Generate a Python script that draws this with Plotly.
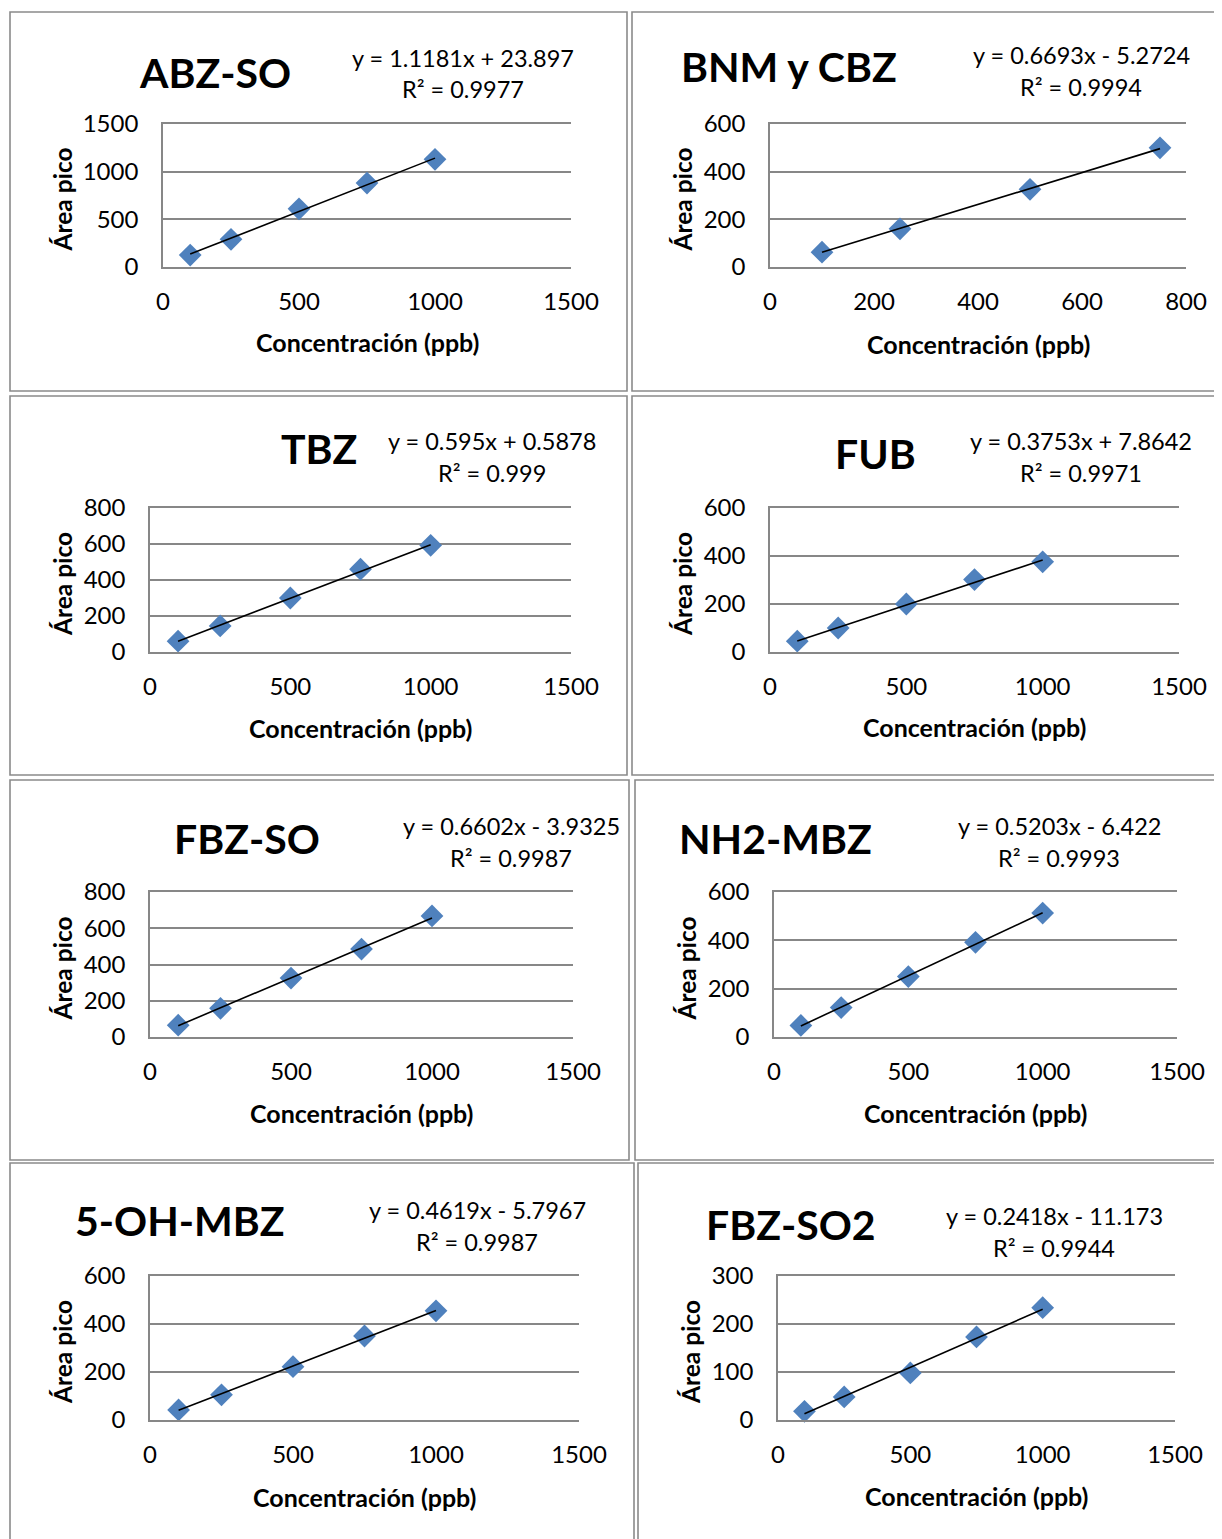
import plotly.graph_objects as go

# ---------------- data ----------------
titles = ["ABZ-SO", "BNM y CBZ", "TBZ", "FUB", "FBZ-SO", "NH2-MBZ", "5-OH-MBZ", "FBZ-SO2"]

conc = [100, 250, 500, 750, 1000]
conc_bnm = [100, 250, 500, 750]

area_abz_so = [125, 290, 610, 880, 1130]
area_bnm_cbz = [62, 160, 326, 500]
area_tbz = [60, 145, 300, 460, 593]
area_fub = [45, 100, 200, 302, 376]
area_fbz_so = [65, 158, 325, 485, 668]
area_nh2_mbz = [48, 122, 250, 392, 513]
area_5oh_mbz = [42, 105, 222, 350, 455]
area_fbz_so2 = [18, 48, 98, 173, 234]

slopes = [1.1181, 0.6693, 0.595, 0.3753, 0.6602, 0.5203, 0.4619, 0.2418]
intercepts = [23.897, -5.2724, 0.5878, 7.8642, -3.9325, -6.422, -5.7967, -11.173]
r2_values = ["0.9977", "0.9994", "0.999", "0.9971", "0.9987", "0.9993", "0.9987", "0.9944"]

x_max = [1500, 800, 1500, 1500, 1500, 1500, 1500, 1500]
x_dtick = [500, 200, 500, 500, 500, 500, 500, 500]
y_max = [1500, 600, 800, 600, 800, 600, 600, 300]
y_dtick = [500, 200, 200, 200, 200, 200, 200, 100]

x_title = "Concentración (ppb)"
y_title = "Área pico"

series_x = [conc, conc_bnm, conc, conc, conc, conc, conc, conc]
series_y = [area_abz_so, area_bnm_cbz, area_tbz, area_fub, area_fbz_so,
            area_nh2_mbz, area_5oh_mbz, area_fbz_so2]

# ---------------- layout geometry (screen pixels) ----------------
OFF = 8                      # page body margin
W, H = 1222 - OFF, 1539 - OFF
# plot area: (left, right, bottom, top)
plot_px = [
    (163, 571, 267, 124),
    (770, 1186, 267, 124),
    (150, 571, 652, 508),
    (770, 1179, 652, 508),
    (150, 573, 1037, 892),
    (774, 1177, 1037, 892),
    (150, 579, 1420, 1276),
    (778, 1175, 1420, 1276),
]
# panel border boxes (x0, x1, y0, y1)
box_px = [
    (10, 627, 12, 391),
    (632, 1226, 12, 391),
    (10, 627, 396, 775),
    (632, 1226, 396, 775),
    (10, 629, 780, 1160),
    (635, 1226, 780, 1160),
    (10, 634, 1163, 1545),
    (638, 1226, 1163, 1545),
]
# title centre, equation centre (x, y line1, y line2), y-title x, x-title y
title_px = [(215, 72), (789, 67), (319, 448), (875, 453), (247, 838), (775, 838), (180, 1220), (791, 1224)]
eq_px = [(463, 58, 89), (1081, 55, 87), (492, 441, 473), (1081, 441, 473),
         (511, 826, 858), (1059, 826, 858), (477, 1210, 1242), (1054, 1216, 1248)]
ytitle_x = [62, 682, 62, 682, 62, 686, 62, 690]
xtitle_y = [342, 344, 728, 727, 1113, 1113, 1497, 1496]

FONT = "Lato"
GRID = "#878787"
BLUE = "#4F81BD"


def px_x(x):
    return (x - OFF) / W


def px_y(y):
    return 1 - (y - OFF) / H


fig = go.Figure()
annotations = []
shapes = []
layout_axes = {}

for i in range(8):
    n = i + 1
    xa = "x" if n == 1 else f"x{n}"
    ya = "y" if n == 1 else f"y{n}"
    l, r, b, t = plot_px[i]

    # data points
    fig.add_trace(go.Scatter(
        x=series_x[i], y=series_y[i], mode="markers",
        marker=dict(symbol="diamond", size=17.5, color=BLUE, line=dict(width=0)),
        xaxis=xa, yaxis=ya, showlegend=False, hoverinfo="x+y", cliponaxis=False))
    # linear trendline from equation
    xs = [min(series_x[i]), max(series_x[i])]
    ys = [slopes[i] * v + intercepts[i] for v in xs]
    fig.add_trace(go.Scatter(
        x=xs, y=ys, mode="lines", line=dict(color="black", width=1.6),
        xaxis=xa, yaxis=ya, showlegend=False, hoverinfo="skip"))

    layout_axes[("xaxis" if n == 1 else f"xaxis{n}")] = dict(
        domain=[px_x(l), px_x(r)], range=[0, x_max[i]], dtick=x_dtick[i], tick0=0,
        showgrid=False, zeroline=False, showline=True, mirror=True,
        linecolor=GRID, linewidth=1.6,
        ticks="outside", ticklen=12, tickcolor="rgba(0,0,0,0)",
        tickfont=dict(family=FONT, size=24, color="black"),
        anchor=ya, fixedrange=True, automargin=False)
    layout_axes[("yaxis" if n == 1 else f"yaxis{n}")] = dict(
        domain=[px_y(b), px_y(t)], range=[0, y_max[i]], dtick=y_dtick[i], tick0=0,
        showgrid=True, gridcolor=GRID, gridwidth=1.6, zeroline=False,
        showline=True, linecolor=GRID, linewidth=1.6,
        ticks="outside", ticklen=18, tickcolor="rgba(0,0,0,0)",
        tickfont=dict(family=FONT, size=24, color="black"),
        anchor=xa, fixedrange=True, automargin=False)

    # border
    x0, x1, y0, y1 = box_px[i]
    shapes.append(dict(type="rect", xref="paper", yref="paper",
                       x0=px_x(x0), x1=px_x(x1), y0=px_y(y1), y1=px_y(y0),
                       line=dict(color="#8a8a8a", width=1.6), fillcolor="rgba(0,0,0,0)",
                       layer="below"))

    # title
    tx, ty = title_px[i]
    annotations.append(dict(text=f"<b>{titles[i]}</b>", x=px_x(tx), y=px_y(ty),
                            xref="paper", yref="paper", showarrow=False,
                            xanchor="center", yanchor="middle",
                            font=dict(family=FONT, size=41, color="black")))
    # equation
    ex, ey1, ey2 = eq_px[i]
    sign = "+" if intercepts[i] >= 0 else "-"
    eq = f"y = {slopes[i]}x {sign} {abs(intercepts[i])}"
    annotations.append(dict(text=eq, x=px_x(ex), y=px_y(ey1), xref="paper", yref="paper",
                            showarrow=False, xanchor="center", yanchor="middle",
                            font=dict(family=FONT, size=23.5, color="black")))
    annotations.append(dict(text=f"R² = {r2_values[i]}", x=px_x(ex), y=px_y(ey2),
                            xref="paper", yref="paper", showarrow=False,
                            xanchor="center", yanchor="middle",
                            font=dict(family=FONT, size=23.5, color="black")))
    # axis titles
    annotations.append(dict(text=f"<b>{y_title}</b>", x=px_x(ytitle_x[i]), y=px_y((b + t) / 2 + 4),
                            xref="paper", yref="paper", showarrow=False, textangle=-90,
                            xanchor="center", yanchor="middle",
                            font=dict(family=FONT, size=24.5, color="black")))
    annotations.append(dict(text=f"<b>{x_title}</b>", x=px_x((l + r) / 2), y=px_y(xtitle_y[i]),
                            xref="paper", yref="paper", showarrow=False,
                            xanchor="center", yanchor="middle",
                            font=dict(family=FONT, size=25, color="black")))

fig.update_layout(
    width=W, height=H,
    margin=dict(l=0, r=0, t=0, b=0, pad=0, autoexpand=False),
    paper_bgcolor="white", plot_bgcolor="white",
    annotations=annotations, shapes=shapes,
    showlegend=False,
    **layout_axes,
)

fig.write_html("out.html", config={"displayModeBar": False})
